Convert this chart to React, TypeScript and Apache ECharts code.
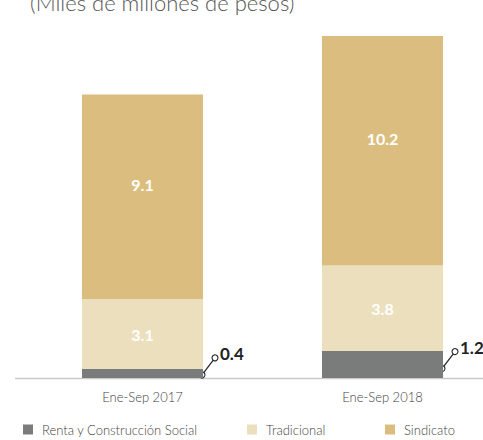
import React, { useEffect, useRef } from "react";
import * as echarts from "echarts";

const categories = ["Ene-Sep 2017", "Ene-Sep 2018"];
const renta = [0.4, 1.2];
const tradicional = [3.1, 3.8];
const sindicato = [9.1, 10.2];
const totals = [12.7, 15.2];
const seriesNames = ["Renta y Construcción Social", "Tradicional", "Sindicato"];
const titleText = "(Miles de millones de pesos)";

const COLORS = ["#7a7c7b", "#ecdfbd", "#dbbe7f"];
const FONT = "Lato";
const BAR_W = 121;

export default function App() {
  const ref = useRef<HTMLDivElement>(null);
  useEffect(() => {
    if (!ref.current) return;
    const chart = echarts.init(ref.current, undefined, { renderer: "svg" });
    const innerLabel = {
      show: true,
      position: "inside",
      color: "#ffffff",
      fontWeight: "bold",
      fontSize: 16,
      fontFamily: FONT,
      formatter: (p: any) => Number(p.value).toFixed(1),
    };
    const legendBase = (name: string, left: number) => ({
      data: [name],
      left,
      top: 418,
      icon: "rect",
      itemWidth: 10,
      itemHeight: 10,
      selectedMode: false,
      textStyle: { fontSize: 13, fontWeight: 300, color: "#444", fontFamily: FONT, padding: [0, 0, 0, 4] },
    });
    chart.setOption({
      animation: false,
      backgroundColor: "#ffffff",
      color: COLORS,
      title: {
        text: titleText,
        left: 25,
        top: -14,
        textStyle: { fontSize: 22, fontWeight: 300, color: "#555", fontFamily: FONT },
      },
      legend: [
        legendBase(seriesNames[0], 18),
        legendBase(seriesNames[1], 242),
        legendBase(seriesNames[2], 380),
      ],
      grid: {
        left: 22.5,
        top: 18,
        width: 480,
        height: 360,
        containLabel: false,
        outerBoundsMode: "none",
      },
      xAxis: {
        type: "category",
        data: categories,
        axisLine: { show: false },
        axisTick: { show: false },
        axisLabel: { color: "#444", fontSize: 13, fontWeight: 300, fontFamily: FONT, margin: 12 },
      },
      yAxis: {
        type: "value",
        min: 0,
        max: 16,
        show: false,
        splitLine: { show: false },
      },
      graphic: [
        {
          type: "line",
          z: 0,
          shape: { x1: 15, y1: 378.5, x2: 483, y2: 378.5 },
          style: { stroke: "#c9c9c9", lineWidth: 1.5 },
        },
      ],
      series: [
        {
          name: seriesNames[0],
          type: "bar",
          stack: "a",
          barWidth: BAR_W,
          data: renta,
          itemStyle: { color: COLORS[0] },
          label: { show: false },
        },
        {
          name: seriesNames[1],
          type: "bar",
          stack: "a",
          barWidth: BAR_W,
          data: tradicional,
          itemStyle: { color: COLORS[1] },
          label: innerLabel,
        },
        {
          name: seriesNames[2],
          type: "bar",
          stack: "a",
          barWidth: BAR_W,
          data: sindicato,
          itemStyle: { color: COLORS[2] },
          label: { ...innerLabel, offset: [0, -12] },
        },
        {
          name: "Total",
          type: "scatter",
          data: totals,
          symbolSize: 1,
          itemStyle: { opacity: 0 },
          label: {
            show: true,
            position: "top",
            distance: 10,
            color: "#222",
            fontWeight: "bold",
            fontSize: 17,
            fontFamily: FONT,
            formatter: (p: any) => Number(p.value).toFixed(1),
          },
        },
        {
          name: "Callout",
          type: "custom",
          clip: false,
          data: renta.map((v, i) => [i, v]),
          renderItem: (params: any, api: any) => {
            const i = api.value(0);
            const v = api.value(1);
            const base = api.coord([i, v * 0.35]);
            const x1 = base[0] + BAR_W / 2 - 1;
            const y1 = base[1];
            const x2 = x1 + 13;
            const y2 = y1 - 17;
            return {
              type: "group",
              children: [
                {
                  type: "line",
                  shape: { x1, y1, x2, y2 },
                  style: { stroke: "#222", lineWidth: 1.2 },
                },
                {
                  type: "circle",
                  shape: { cx: x1, cy: y1, r: 3 },
                  style: { fill: "#fff", stroke: "#222", lineWidth: 1.1 },
                },
                {
                  type: "circle",
                  shape: { cx: x2, cy: y2, r: 3 },
                  style: { fill: "#fff", stroke: "#222", lineWidth: 1.1 },
                },
                {
                  type: "text",
                  style: {
                    text: Number(v).toFixed(1),
                    x: x2 + 5,
                    y: y2 - 4,
                    fill: "#222",
                    font: `bold 17px ${FONT}`,
                    verticalAlign: "middle",
                    align: "left",
                  },
                },
              ],
            };
          },
        },
      ],
    });
    return () => chart.dispose();
  }, []);
  return (
    <div
      ref={ref}
      style={{ position: "fixed", left: 0, top: 0, width: 483, height: 440, background: "#fff" }}
    />
  );
}
